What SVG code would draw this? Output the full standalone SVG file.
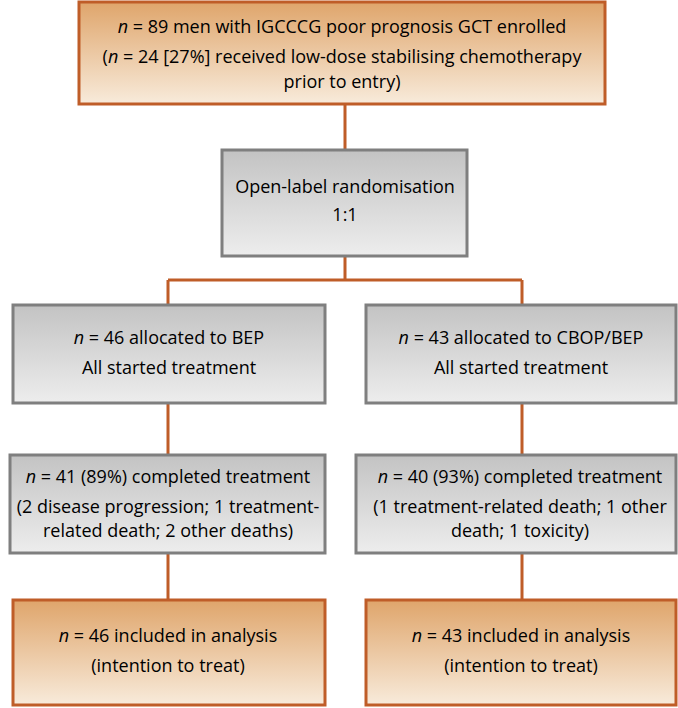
<svg xmlns="http://www.w3.org/2000/svg" width="678" height="708" viewBox="0 0 678 708">
<defs>
<linearGradient id="gO" x1="0" y1="0" x2="0" y2="1"><stop offset="0" stop-color="#dfa56b"/><stop offset="1" stop-color="#f8ebdb"/></linearGradient>
<linearGradient id="gG" x1="0" y1="0" x2="0" y2="1"><stop offset="0" stop-color="#c3c3c3"/><stop offset="1" stop-color="#ededed"/></linearGradient>
</defs>
<style>
.o{fill:url(#gO);stroke:#bf5d28;stroke-width:3}
.g{fill:url(#gG);stroke:#7f7f7f;stroke-width:3}
.c{stroke:#bf5d28;stroke-width:3;fill:none}
text{font-family:"Open Sans","Liberation Sans",sans-serif;font-size:18px;fill:#000;text-anchor:middle}
</style>
<g id="connectors">
<path class="c" d="M345 104V150M345 256V280M168 280H522M168 280V305M522 280V305M168 403V455M522 403V455M168 553V600M522 553V600"/>
</g>
<g id="enrolled">
<rect class="o" x="79" y="2" width="526" height="102"/>
<text x="342" y="33"><tspan font-style="italic">n</tspan> = 89 men with IGCCCG poor prognosis GCT enrolled</text>
<text x="342" y="63">(<tspan font-style="italic">n</tspan> = 24 [27%] received low-dose stabilising chemotherapy</text>
<text x="342" y="88">prior to entry)</text>
</g>
<g id="randomisation">
<rect class="g" x="222" y="150" width="245" height="106"/>
<text x="345" y="193">Open-label randomisation</text>
<text x="345" y="221">1:1</text>
</g>
<g id="alloc-bep">
<rect class="g" x="13" y="305" width="312" height="98"/>
<text x="169" y="344"><tspan font-style="italic">n</tspan> = 46 allocated to BEP</text>
<text x="169" y="374">All started treatment</text>
</g>
<g id="alloc-cbop">
<rect class="g" x="366" y="305" width="310" height="98"/>
<text x="521" y="344"><tspan font-style="italic">n</tspan> = 43 allocated to CBOP/BEP</text>
<text x="521" y="374">All started treatment</text>
</g>
<g id="completed-bep">
<rect class="g" x="10" y="455" width="315" height="98"/>
<text x="168" y="483"><tspan font-style="italic">n</tspan> = 41 (89%) completed treatment</text>
<text x="168" y="513">(2 disease progression; 1 treatment-</text>
<text x="168" y="537">related death; 2 other deaths)</text>
</g>
<g id="completed-cbop">
<rect class="g" x="356" y="455" width="320" height="98"/>
<text x="520" y="483"><tspan font-style="italic">n</tspan> = 40 (93%) completed treatment</text>
<text x="520" y="513">(1 treatment-related death; 1 other</text>
<text x="520" y="537">death; 1 toxicity)</text>
</g>
<g id="analysis-bep">
<rect class="o" x="13" y="600" width="312" height="105"/>
<text x="168" y="642"><tspan font-style="italic">n</tspan> = 46 included in analysis</text>
<text x="168" y="672">(intention to treat)</text>
</g>
<g id="analysis-cbop">
<rect class="o" x="366" y="600" width="310" height="105"/>
<text x="521" y="642"><tspan font-style="italic">n</tspan> = 43 included in analysis</text>
<text x="521" y="672">(intention to treat)</text>
</g>
</svg>
